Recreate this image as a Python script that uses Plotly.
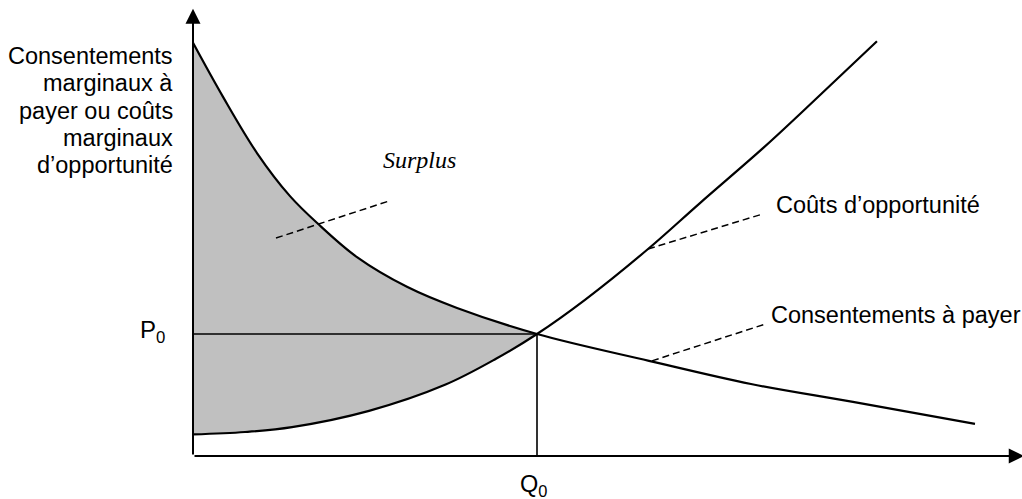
import plotly.graph_objects as go

# ---- data (quantity Q, price P units) ----
demand_q = [0, 3.49, 7.44, 11.28, 14.53, 19.07, 24.88, 30.70, 40.0, 53.02, 64.88, 76.74, 90.93]
demand_p = [101.6, 88.3, 74.5, 63.9, 57.1, 48.9, 41.6, 36.4, 30.0, 23.4, 17.7, 13.3, 7.9]
supply_q = [0, 6.05, 11.51, 20.47, 29.30, 35.23, 40.0, 45.58, 52.91, 58.95, 66.28, 70.58, 79.53]
supply_p = [5.3, 5.9, 7.1, 11.1, 17.5, 23.9, 30.0, 38.4, 50.9, 62.2, 75.7, 84.1, 102.0]
Q0 = 40.0
P0 = 30.0

surplus_leader_q = [9.65, 22.79]
surplus_leader_p = [53.6, 62.7]
couts_leader_q = [52.91, 65.93]
couts_leader_p = [50.9, 59.3]
consent_leader_q = [53.37, 66.63]
consent_leader_p = [23.4, 32.5]

ylabel_lines = ["Consentements", "marginaux à", "payer ou coûts", "marginaux", "d’opportunité"]
label_surplus = "Surplus"
label_couts = "Coûts d’opportunité"
label_consent = "Consentements à payer"
label_P0 = "P<sub>0</sub>"
label_Q0 = "Q<sub>0</sub>"

X_RANGE = [-22.442, 96.395]
Y_RANGE = [-10.574, 112.13]
AXIS_X_END = 96.6
AXIS_Y_END = 110.0

FONT = "Liberation Sans, Arial, sans-serif"
FS = 23.5

fig = go.Figure()

# shaded surplus region between supply (below) and demand (above) up to Q0
sq = [q for q in supply_q if q <= Q0]
sp = supply_p[:len(sq)]
dq = [q for q in demand_q if q <= Q0]
dp = demand_p[:len(dq)]
fig.add_trace(go.Scatter(x=sq, y=sp, mode="lines", line=dict(width=0, shape="spline"),
                         hoverinfo="skip", showlegend=False))
fig.add_trace(go.Scatter(x=dq, y=dp, mode="lines", line=dict(width=0, shape="spline"),
                         fill="tonexty", fillcolor="#c0c0c0", hoverinfo="skip", showlegend=False))

# P0 / Q0 guide lines
fig.add_trace(go.Scatter(x=[0, Q0, Q0], y=[P0, P0, 0], mode="lines",
                         line=dict(color="black", width=1.6), showlegend=False, hoverinfo="skip"))

# curves
fig.add_trace(go.Scatter(x=demand_q, y=demand_p, mode="lines",
                         line=dict(color="black", width=2.2, shape="spline"), showlegend=False))
fig.add_trace(go.Scatter(x=supply_q, y=supply_p, mode="lines",
                         line=dict(color="black", width=2.2, shape="spline"), showlegend=False))

# dashed leaders
for lq, lp in [(surplus_leader_q, surplus_leader_p), (couts_leader_q, couts_leader_p),
               (consent_leader_q, consent_leader_p)]:
    fig.add_trace(go.Scatter(x=lq, y=lp, mode="lines",
                             line=dict(color="black", width=1.5, dash="7px,4px"),
                             showlegend=False, hoverinfo="skip"))

annotations = []
# axes with arrows
annotations.append(dict(x=0, y=AXIS_Y_END, ax=0, ay=0, xref="x", yref="y", axref="x", ayref="y",
                        showarrow=True, arrowhead=2, arrowsize=1.5, arrowwidth=2, arrowcolor="black",
                        text="", standoff=0))
annotations.append(dict(x=AXIS_X_END, y=0, ax=0, ay=0, xref="x", yref="y", axref="x", ayref="y",
                        showarrow=True, arrowhead=2, arrowsize=1.5, arrowwidth=2, arrowcolor="black",
                        text="", standoff=0))

# y-axis title lines (right aligned)
ylab_p = [98.3, 91.6, 84.9, 78.2, 71.5]
for t, p in zip(ylabel_lines, ylab_p):
    annotations.append(dict(x=-2.1, y=p, xref="x", yref="y", text=t, showarrow=False,
                            xanchor="right", yanchor="middle",
                            font=dict(family=FONT, size=FS, color="black")))

annotations.append(dict(x=26.3, y=72.8, xref="x", yref="y", text="<i>" + label_surplus + "</i>",
                        showarrow=False, xanchor="center", yanchor="middle",
                        font=dict(family="Liberation Serif, Times New Roman, serif", size=24, color="black")))
annotations.append(dict(x=67.6, y=61.7, xref="x", yref="y", text=label_couts, showarrow=False,
                        xanchor="left", yanchor="middle", font=dict(family=FONT, size=FS, color="black")))
annotations.append(dict(x=67.0, y=34.7, xref="x", yref="y", text=label_consent, showarrow=False,
                        xanchor="left", yanchor="middle", font=dict(family=FONT, size=FS, color="black")))
annotations.append(dict(x=-3.0, y=P0 + 0.6, xref="x", yref="y", text=label_P0, showarrow=False,
                        xanchor="right", yanchor="middle", font=dict(family=FONT, size=24, color="black")))
annotations.append(dict(x=39.6, y=-7.2, xref="x", yref="y", text=label_Q0, showarrow=False,
                        xanchor="center", yanchor="middle", font=dict(family=FONT, size=FS, color="black")))

fig.update_layout(
    width=1022, height=499,
    margin=dict(l=0, r=0, t=0, b=0),
    paper_bgcolor="white", plot_bgcolor="white",
    xaxis=dict(range=X_RANGE, visible=False, fixedrange=True),
    yaxis=dict(range=Y_RANGE, visible=False, fixedrange=True),
    annotations=annotations,
    showlegend=False,
)

fig.write_html("out.html", post_script="document.body.style.margin='0';",
               config={"displayModeBar": False})
